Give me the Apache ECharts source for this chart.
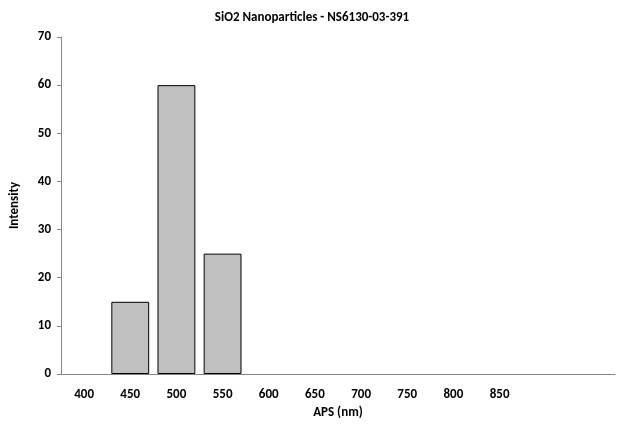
<!DOCTYPE html>
<html><head><meta charset="utf-8">
<script src="https://cdn.jsdelivr.net/npm/echarts@6/dist/echarts.min.js"></script>
<style>html,body{margin:0;padding:0;background:#fff}#c{width:624px;height:432px}</style>
</head><body><div id="c"></div>
<script>
const categories = ['400','450','500','550','600','650','700','750','800','850','',''];
const intensity = [0,15,60,25,0,0,0,0,0,0,0,0];
const yTicks = {min:0,max:70,interval:10};
const chart = echarts.init(document.getElementById('c'));
const font = 'Calibri, Carlito, "Liberation Sans", Arial, sans-serif';
chart.setOption({
  animation:false,
  title:{text:'SiO2 Nanoparticles - NS6130-03-391',left:'center',top:6,
    textStyle:{fontFamily:font,fontSize:13,fontWeight:'bold',color:'#000'}},
  grid:{left:60,right:9,top:37,bottom:58},
  xAxis:{type:'category',data:categories,name:'APS (nm)',nameLocation:'middle',nameGap:30,
    nameTextStyle:{fontFamily:font,fontSize:13,fontWeight:'bold',color:'#000'},
    axisLine:{lineStyle:{color:'#868686'}},axisTick:{show:false},
    axisLabel:{fontFamily:font,fontSize:13,fontWeight:'bold',color:'#000',margin:14}},
  yAxis:{type:'value',min:yTicks.min,max:yTicks.max,interval:yTicks.interval,name:'Intensity',
    nameLocation:'middle',nameGap:40,
    nameTextStyle:{fontFamily:font,fontSize:13,fontWeight:'bold',color:'#000'},
    axisLine:{show:true,lineStyle:{color:'#868686'}},
    axisTick:{show:true,length:4,lineStyle:{color:'#868686'}},splitLine:{show:false},
    axisLabel:{fontFamily:font,fontSize:13,fontWeight:'bold',color:'#000',margin:10}},
  series:[{type:'bar',data:intensity.map(v => v === 0 ? null : v),barCategoryGap:'18%',
    itemStyle:{color:'#c0c0c0',borderColor:'#000',borderWidth:1}}]
});
</script></body></html>
